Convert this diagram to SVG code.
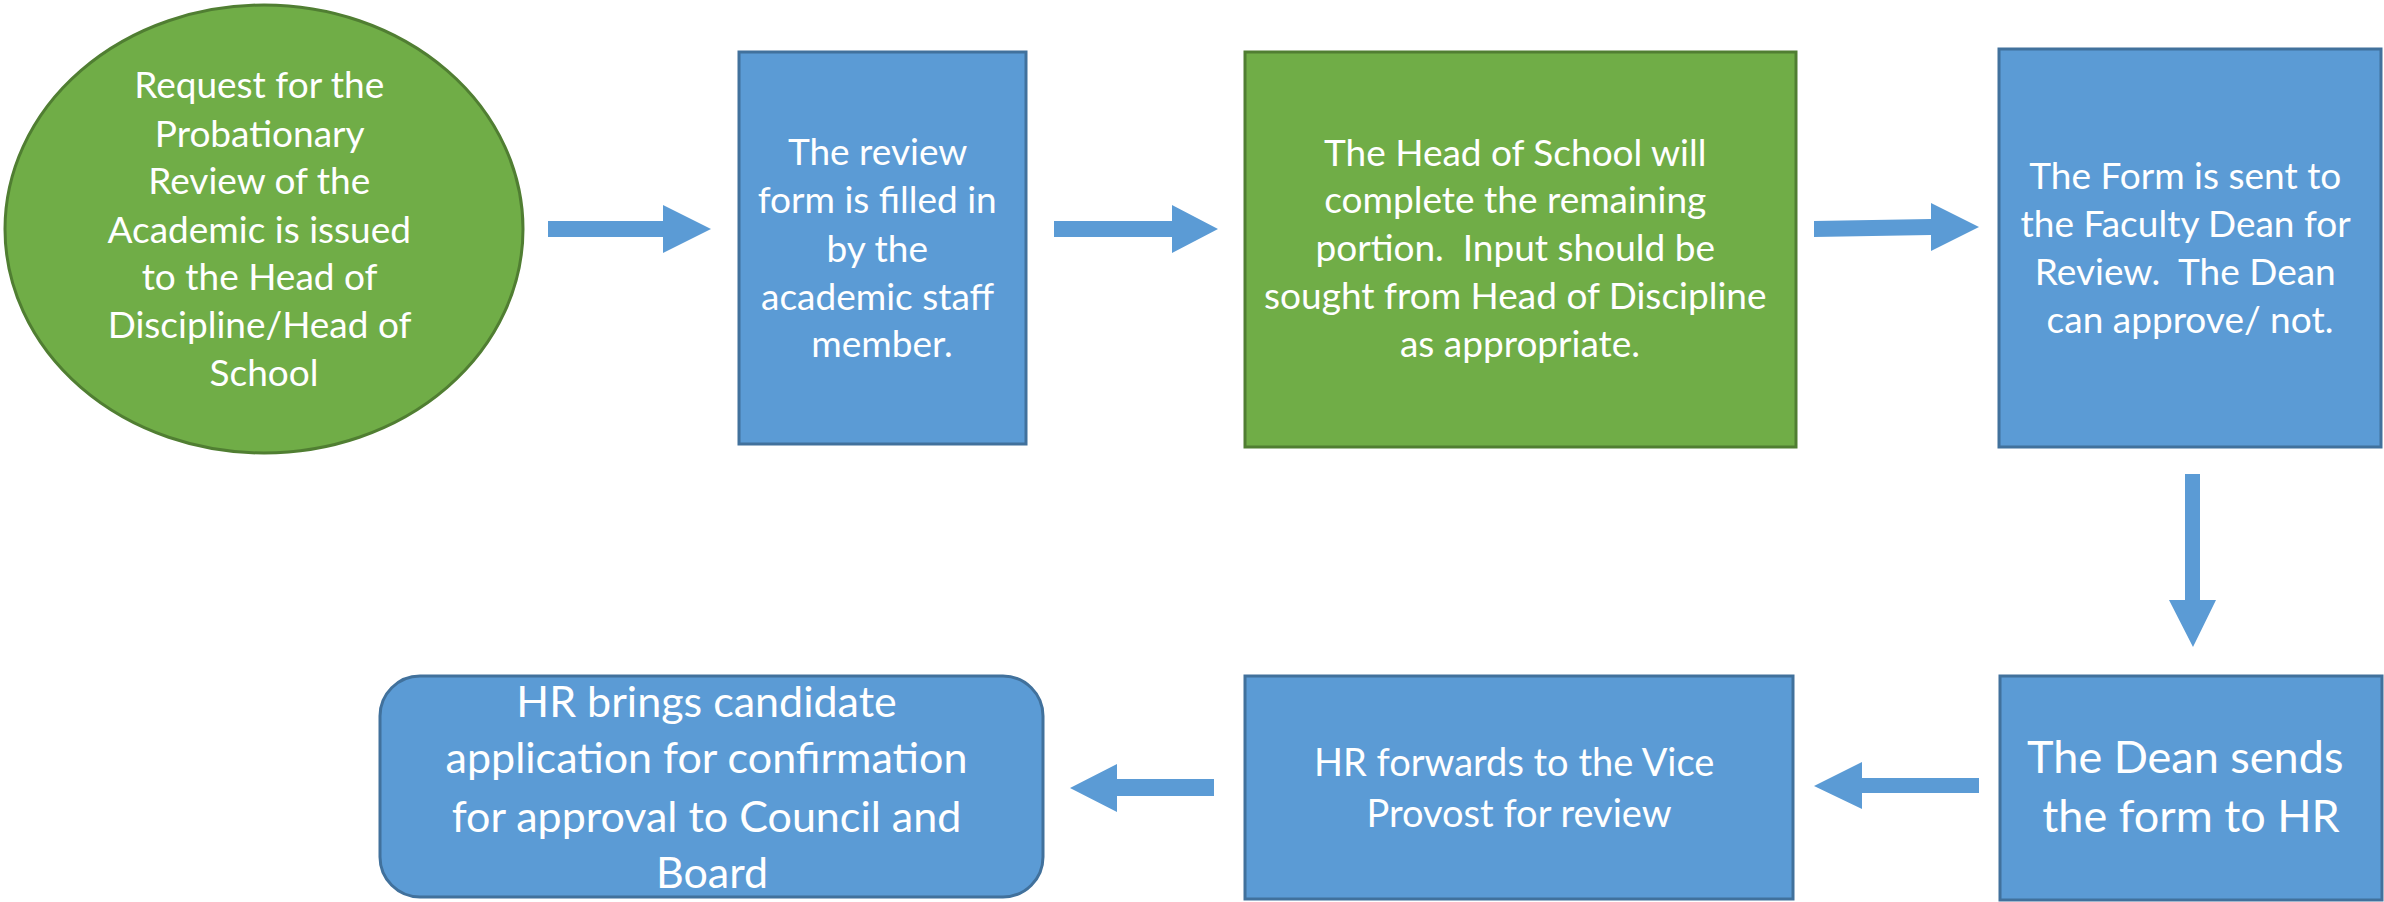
<svg xmlns="http://www.w3.org/2000/svg" width="2384" height="902" viewBox="0 0 2384 902">
  <style>
    .blue { fill: #5B9BD5; stroke: #41719C; stroke-width: 3; }
    .green { fill: #70AD47; stroke: #507E32; stroke-width: 3; }
    .arrow { fill: #5B9BD5; }
    text { font-family: Lato, "Open Sans", sans-serif; fill: #FFFFFF; text-anchor: middle; }
    .s { font-size: 37px; }
    .m { font-size: 38px; }
    .l { font-size: 43px; }
    .xl { font-size: 45px; }
  </style>
  <rect width="2384" height="902" fill="#FFFFFF"/>

  <g id="start">
    <ellipse class="green" cx="264" cy="229" rx="259" ry="224"/>
    <text class="s">
      <tspan x="264" y="98">Request for the</tspan>
      <tspan x="264" y="147">Probationary</tspan>
      <tspan x="264" y="194">Review of the</tspan>
      <tspan x="264" y="243">Academic is issued</tspan>
      <tspan x="264" y="290">to the Head of</tspan>
      <tspan x="264" y="338">Discipline/Head of</tspan>
      <tspan x="264" y="386">School</tspan>
    </text>
  </g>

  <g id="fill-form">
    <rect class="blue" x="739" y="52" width="287" height="392"/>
    <text class="s">
      <tspan x="882" y="165">The review</tspan>
      <tspan x="882" y="213">form is filled in</tspan>
      <tspan x="882" y="262">by the</tspan>
      <tspan x="882" y="310">academic staff</tspan>
      <tspan x="882" y="357">member.</tspan>
    </text>
  </g>

  <g id="head-of-school">
    <rect class="green" x="1245" y="52" width="551" height="395"/>
    <text class="s">
      <tspan x="1520" y="166">The Head of School will</tspan>
      <tspan x="1520" y="213">complete the remaining</tspan>
      <tspan x="1520" y="261" xml:space="preserve">portion.  Input should be</tspan>
      <tspan x="1520" y="309">sought from Head of Discipline</tspan>
      <tspan x="1520" y="357">as appropriate.</tspan>
    </text>
  </g>

  <g id="faculty-dean">
    <rect class="blue" x="1999" y="49" width="382" height="398"/>
    <text class="s">
      <tspan x="2190" y="189">The Form is sent to</tspan>
      <tspan x="2190" y="237">the Faculty Dean for</tspan>
      <tspan x="2190" y="285" xml:space="preserve">Review.  The Dean</tspan>
      <tspan x="2190" y="333">can approve/ not.</tspan>
    </text>
  </g>

  <g id="dean-to-hr">
    <rect class="blue" x="2000" y="676" width="382" height="224"/>
    <text class="xl">
      <tspan x="2191" y="773">The Dean sends</tspan>
      <tspan x="2191" y="832">the form to HR</tspan>
    </text>
  </g>

  <g id="vice-provost">
    <rect class="blue" x="1245" y="676" width="548" height="223"/>
    <text class="m">
      <tspan x="1519" y="776">HR forwards to the Vice</tspan>
      <tspan x="1519" y="827">Provost for review</tspan>
    </text>
  </g>

  <g id="council-board">
    <rect class="blue" x="380" y="676" width="663" height="221" rx="40" ry="40"/>
    <text class="l">
      <tspan x="712" y="717">HR brings candidate</tspan>
      <tspan x="712" y="773">application for confirmation</tspan>
      <tspan x="712" y="832">for approval to Council and</tspan>
      <tspan x="712" y="888">Board</tspan>
    </text>
  </g>

  <g id="connectors">
    <polygon class="arrow" points="548,221 663,221 663,205 711,229 663,253 663,237 548,237"/>
    <polygon class="arrow" points="1054,221 1172,221 1172,205 1218,229 1172,253 1172,237 1054,237"/>
    <polygon class="arrow" points="1814,221 1931,219 1931,203 1979,227 1931,251 1931,235 1814,237"/>
    <polygon class="arrow" points="2185,474 2200,474 2200,600 2216,600 2193,647 2169,600 2185,600"/>
    <polygon class="arrow" points="1979,778 1862,778 1862,762 1814,786 1862,809 1862,793 1979,793"/>
    <polygon class="arrow" points="1214,779 1117,779 1117,764 1070,788 1117,812 1117,796 1214,796"/>
  </g>
</svg>
